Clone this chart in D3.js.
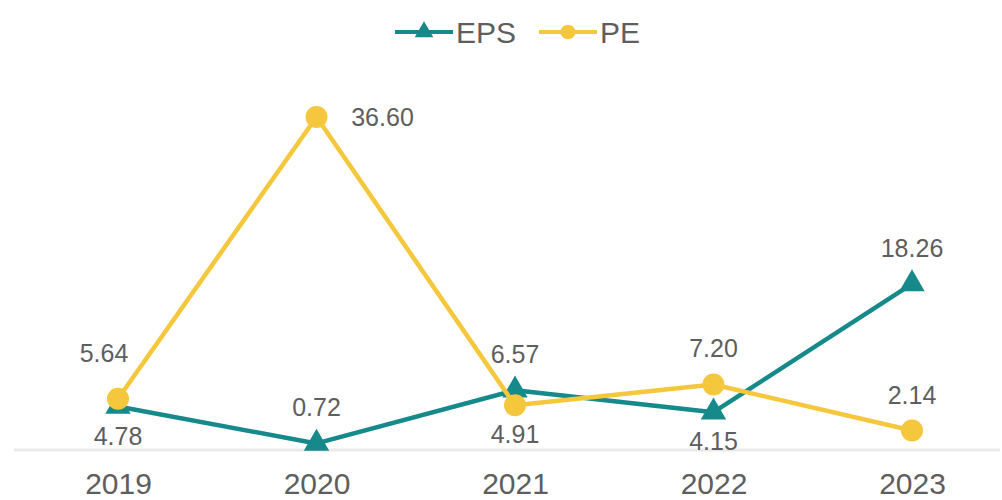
<!DOCTYPE html>
<html>
<head>
<meta charset="utf-8">
<script src="https://cdn.jsdelivr.net/npm/d3@7"></script>
<style>
  html, body { margin: 0; padding: 0; background: #ffffff; }
  svg { display: block; font-family: "Liberation Sans", Arial, sans-serif; }
</style>
</head>
<body>
<svg id="chart" width="1002" height="500"></svg>
<script>
// Years on the category axis
const years = ["2019", "2020", "2021", "2022", "2023"];
// Earnings per share
const epsValues = [4.78, 0.72, 6.57, 4.15, 18.26];
// Price / earnings ratio
const peValues = [5.64, 36.60, 4.91, 7.20, 2.14];
// Where each value label sits relative to its point
const epsLabelSide = ["below", "above", "above", "below", "above"];
const peLabelSide = ["aboveLeft", "right", "below", "above", "above"];

const W = 1002, H = 500;
const teal = "#16898a";
const yellow = "#f5c73c";
const textColor = "#5e5e5e";

const svg = d3.select("#chart");

const x = d3.scalePoint().domain(years).range([118, 912]);
const y = d3.scaleLinear().domain([0, 40]).range([450, 86]);

// baseline
svg.append("line")
  .attr("x1", 14).attr("x2", 1000)
  .attr("y1", y(0)).attr("y2", y(0))
  .attr("stroke", "#e9e9e9").attr("stroke-width", 3);

// category axis
const xAxis = svg.append("g")
  .attr("transform", `translate(0,${y(0)})`)
  .call(d3.axisBottom(x).tickSize(0).tickPadding(23));
xAxis.select(".domain").remove();
xAxis.selectAll("text")
  .attr("fill", textColor)
  .attr("font-size", 30)
  .attr("font-family", "'Liberation Sans', Arial, sans-serif");

const series = [
  { name: "EPS", values: epsValues, sides: epsLabelSide, color: teal, symbol: d3.symbolTriangle },
  { name: "PE", values: peValues, sides: peLabelSide, color: yellow, symbol: d3.symbolCircle }
];

const line = d3.line()
  .x((d, i) => x(years[i]))
  .y(d => y(d));

const offsets = {
  above: [0, -36],
  below: [0, 29],
  aboveLeft: [-14, -46],
  right: [66, 0]
};

series.forEach(s => {
  const g = svg.append("g");
  g.append("path")
    .datum(s.values)
    .attr("d", line)
    .attr("fill", "none")
    .attr("stroke", s.color)
    .attr("stroke-width", 4.5)
    .attr("stroke-linejoin", "round");

  g.selectAll("path.marker")
    .data(s.values)
    .enter().append("path")
    .attr("class", "marker")
    .attr("d", d3.symbol().type(s.symbol).size(s.symbol === d3.symbolCircle ? 380 : 280))
    .attr("transform", (d, i) => `translate(${x(years[i])},${y(d)})`)
    .attr("fill", s.color);
});

// value labels drawn on top of all lines
series.forEach(s => {
  svg.append("g").selectAll("text")
    .data(s.values)
    .enter().append("text")
    .attr("x", (d, i) => x(years[i]) + offsets[s.sides[i]][0])
    .attr("y", (d, i) => y(d) + offsets[s.sides[i]][1])
    .attr("text-anchor", "middle")
    .attr("dominant-baseline", "central")
    .attr("font-size", 25)
    .attr("fill", textColor)
    .text(d => d.toFixed(2));
});

// legend
const legend = svg.append("g").attr("transform", "translate(0,32)");
const legendItems = [
  { name: "EPS", color: teal, symbol: d3.symbolTriangle, x0: 395, size: 150 },
  { name: "PE", color: yellow, symbol: d3.symbolCircle, x0: 539, size: 170 }
];
legendItems.forEach(it => {
  legend.append("line")
    .attr("x1", it.x0).attr("x2", it.x0 + 58)
    .attr("y1", 0).attr("y2", 0)
    .attr("stroke", it.color).attr("stroke-width", 4);
  legend.append("path")
    .attr("d", d3.symbol().type(it.symbol).size(it.size))
    .attr("transform", `translate(${it.x0 + 29},0)`)
    .attr("fill", it.color);
  legend.append("text")
    .attr("x", it.x0 + 61)
    .attr("y", 0)
    .attr("dominant-baseline", "central")
    .attr("font-size", 30)
    .attr("fill", textColor)
    .text(it.name);
});
</script>
</body>
</html>
